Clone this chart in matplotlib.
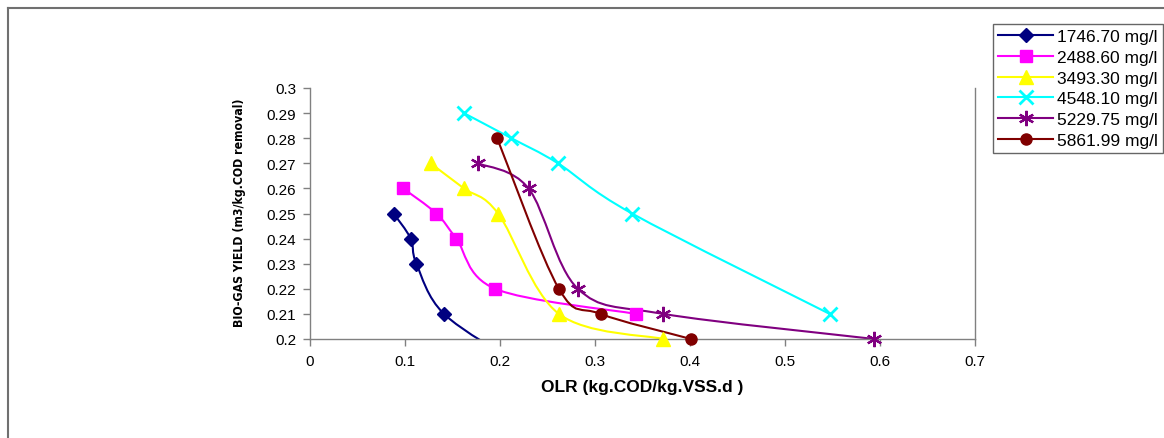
import matplotlib
matplotlib.use("Agg")
import matplotlib.pyplot as plt
from matplotlib.path import Path
from matplotlib.patches import PathPatch
from matplotlib.lines import Line2D
from matplotlib.ticker import FuncFormatter, MultipleLocator
import numpy as np

plt.rcParams['font.family'] = ['Liberation Sans', 'DejaVu Sans']

# Series labels (influent COD concentration)
labels = ["1746.70 mg/l", "2488.60 mg/l", "3493.30 mg/l",
          "4548.10 mg/l", "5229.75 mg/l", "5861.99 mg/l"]

# Organic loading rate (kg COD / kg VSS.d)
olr_1746 = [0.088, 0.106, 0.112, 0.141, 0.220]
olr_2488 = [0.098, 0.133, 0.154, 0.195, 0.343]
olr_3493 = [0.127, 0.162, 0.198, 0.262, 0.372]
olr_4548 = [0.162, 0.212, 0.261, 0.339, 0.547]
olr_5229 = [0.177, 0.230, 0.282, 0.372, 0.594]
olr_5861 = [0.197, 0.262, 0.306, 0.401, 0.500]

# Biogas yield (m3 / kg COD removed)
yield_1746 = [0.25, 0.24, 0.23, 0.21, 0.19]
yield_2488 = [0.26, 0.25, 0.24, 0.22, 0.21]
yield_3493 = [0.27, 0.26, 0.25, 0.21, 0.20]
yield_4548 = [0.29, 0.28, 0.27, 0.25, 0.21]
yield_5229 = [0.27, 0.26, 0.22, 0.21, 0.20]
yield_5861 = [0.28, 0.22, 0.21, 0.20, 0.19]

x_series = [olr_1746, olr_2488, olr_3493, olr_4548, olr_5229, olr_5861]
y_series = [yield_1746, yield_2488, yield_3493, yield_4548, yield_5229, yield_5861]

colors = ["#000080", "#FF00FF", "#FFFF00", "#00FFFF", "#800080", "#800000"]
markers = ["D", "s", "^", "x", (6, 2, 0), "o"]
msizes = [7.5, 8, 10, 10, 11, 8]
mew = [1, 1, 1, 2, 1.6, 1]

W, H = 1164, 439
fig = plt.figure(figsize=(W / 100, H / 100), dpi=100)
ax = fig.add_axes([310 / W, 1 - 340 / H, (975 - 310) / W, (340 - 89) / H])

YMIN, YMAX = 0.2, 0.3


def smooth_path(xs, ys):
    """Cubic Bezier through the points (Catmull-Rom style smoothing)."""
    p = np.column_stack([xs, ys])
    n = len(p)
    verts = [p[0]]
    codes = [Path.MOVETO]
    for i in range(n - 1):
        p0 = p[i - 1] if i > 0 else p[i]
        p1 = p[i]
        p2 = p[i + 1]
        p3 = p[i + 2] if i + 2 < n else p[i + 1]
        c1 = p1 + (p2 - p0) / 6.0
        c2 = p2 - (p3 - p1) / 6.0
        verts += [c1, c2, p2]
        codes += [Path.CURVE4] * 3
    return Path(verts, codes)


for xs, ys, c, m, ms, mw in zip(x_series, y_series, colors, markers, msizes, mew):
    patch = PathPatch(smooth_path(xs, ys), facecolor="none", edgecolor=c, lw=1.5,
                      zorder=2)
    ax.add_patch(patch)
    xv = [a for a, b in zip(xs, ys) if b >= YMIN - 1e-9]
    yv = [b for b in ys if b >= YMIN - 1e-9]
    ax.plot(xv, yv, ls="none", marker=m, ms=ms, color=c, mec=c, mew=mw,
            clip_on=False, zorder=3)

ax.set_xlim(0, 0.7)
ax.set_ylim(YMIN, YMAX)
ax.xaxis.set_major_locator(MultipleLocator(0.1))
ax.yaxis.set_major_locator(MultipleLocator(0.01))
ax.xaxis.set_major_formatter(FuncFormatter(lambda v, p: f"{v:.1f}".rstrip("0").rstrip(".") if v else "0"))
ax.yaxis.set_major_formatter(FuncFormatter(lambda v, p: f"{v:.2f}".rstrip("0")))

ax.spines["top"].set_visible(False)
for side in ["left", "bottom", "right"]:
    ax.spines[side].set_color("#808080")
    ax.spines[side].set_linewidth(1.0)
ax.tick_params(axis="both", colors="#808080", labelcolor="black", labelsize=11,
               length=5, width=1, direction="out")
ax.tick_params(axis="y", pad=5)
ax.tick_params(axis="x", pad=6)

ax.set_xlabel("OLR (kg.COD/kg.VSS.d )", fontsize=12.5, fontweight="bold", labelpad=8)
fig.text(240 / W, 1 - 213 / H, "BIO-GAS YIELD (m3/kg.COD removal)", rotation=90,
         fontsize=8.8, fontweight="bold", ha="center", va="center",
         family=["DejaVu Sans"], fontstretch="condensed")

handles = [Line2D([], [], color=c, lw=1.5, marker=m, ms=ms, mec=c, mew=mw)
           for c, m, ms, mw in zip(colors, markers, msizes, mew)]
leg = fig.legend(handles, labels, loc="upper left",
                 bbox_to_anchor=(993 / W, 1 - 25 / H), bbox_transform=fig.transFigure,
                 fontsize=12.5, frameon=True, fancybox=False, shadow=False,
                 handlelength=3.15, handletextpad=0.23, labelspacing=0.32,
                 borderpad=0.3, borderaxespad=0)
leg.get_frame().set_edgecolor("#404040")
leg.get_frame().set_linewidth(1.0)

# outer chart border (open to the right and bottom)
fig.add_artist(Line2D([8 / W, 8 / W], [0, 1 - 9 / H], transform=fig.transFigure,
                      color="#707070", lw=1.5))
fig.add_artist(Line2D([8 / W, 1], [1 - 9 / H, 1 - 9 / H], transform=fig.transFigure,
                      color="#707070", lw=1.5))

fig.savefig("out.png", dpi=100)
